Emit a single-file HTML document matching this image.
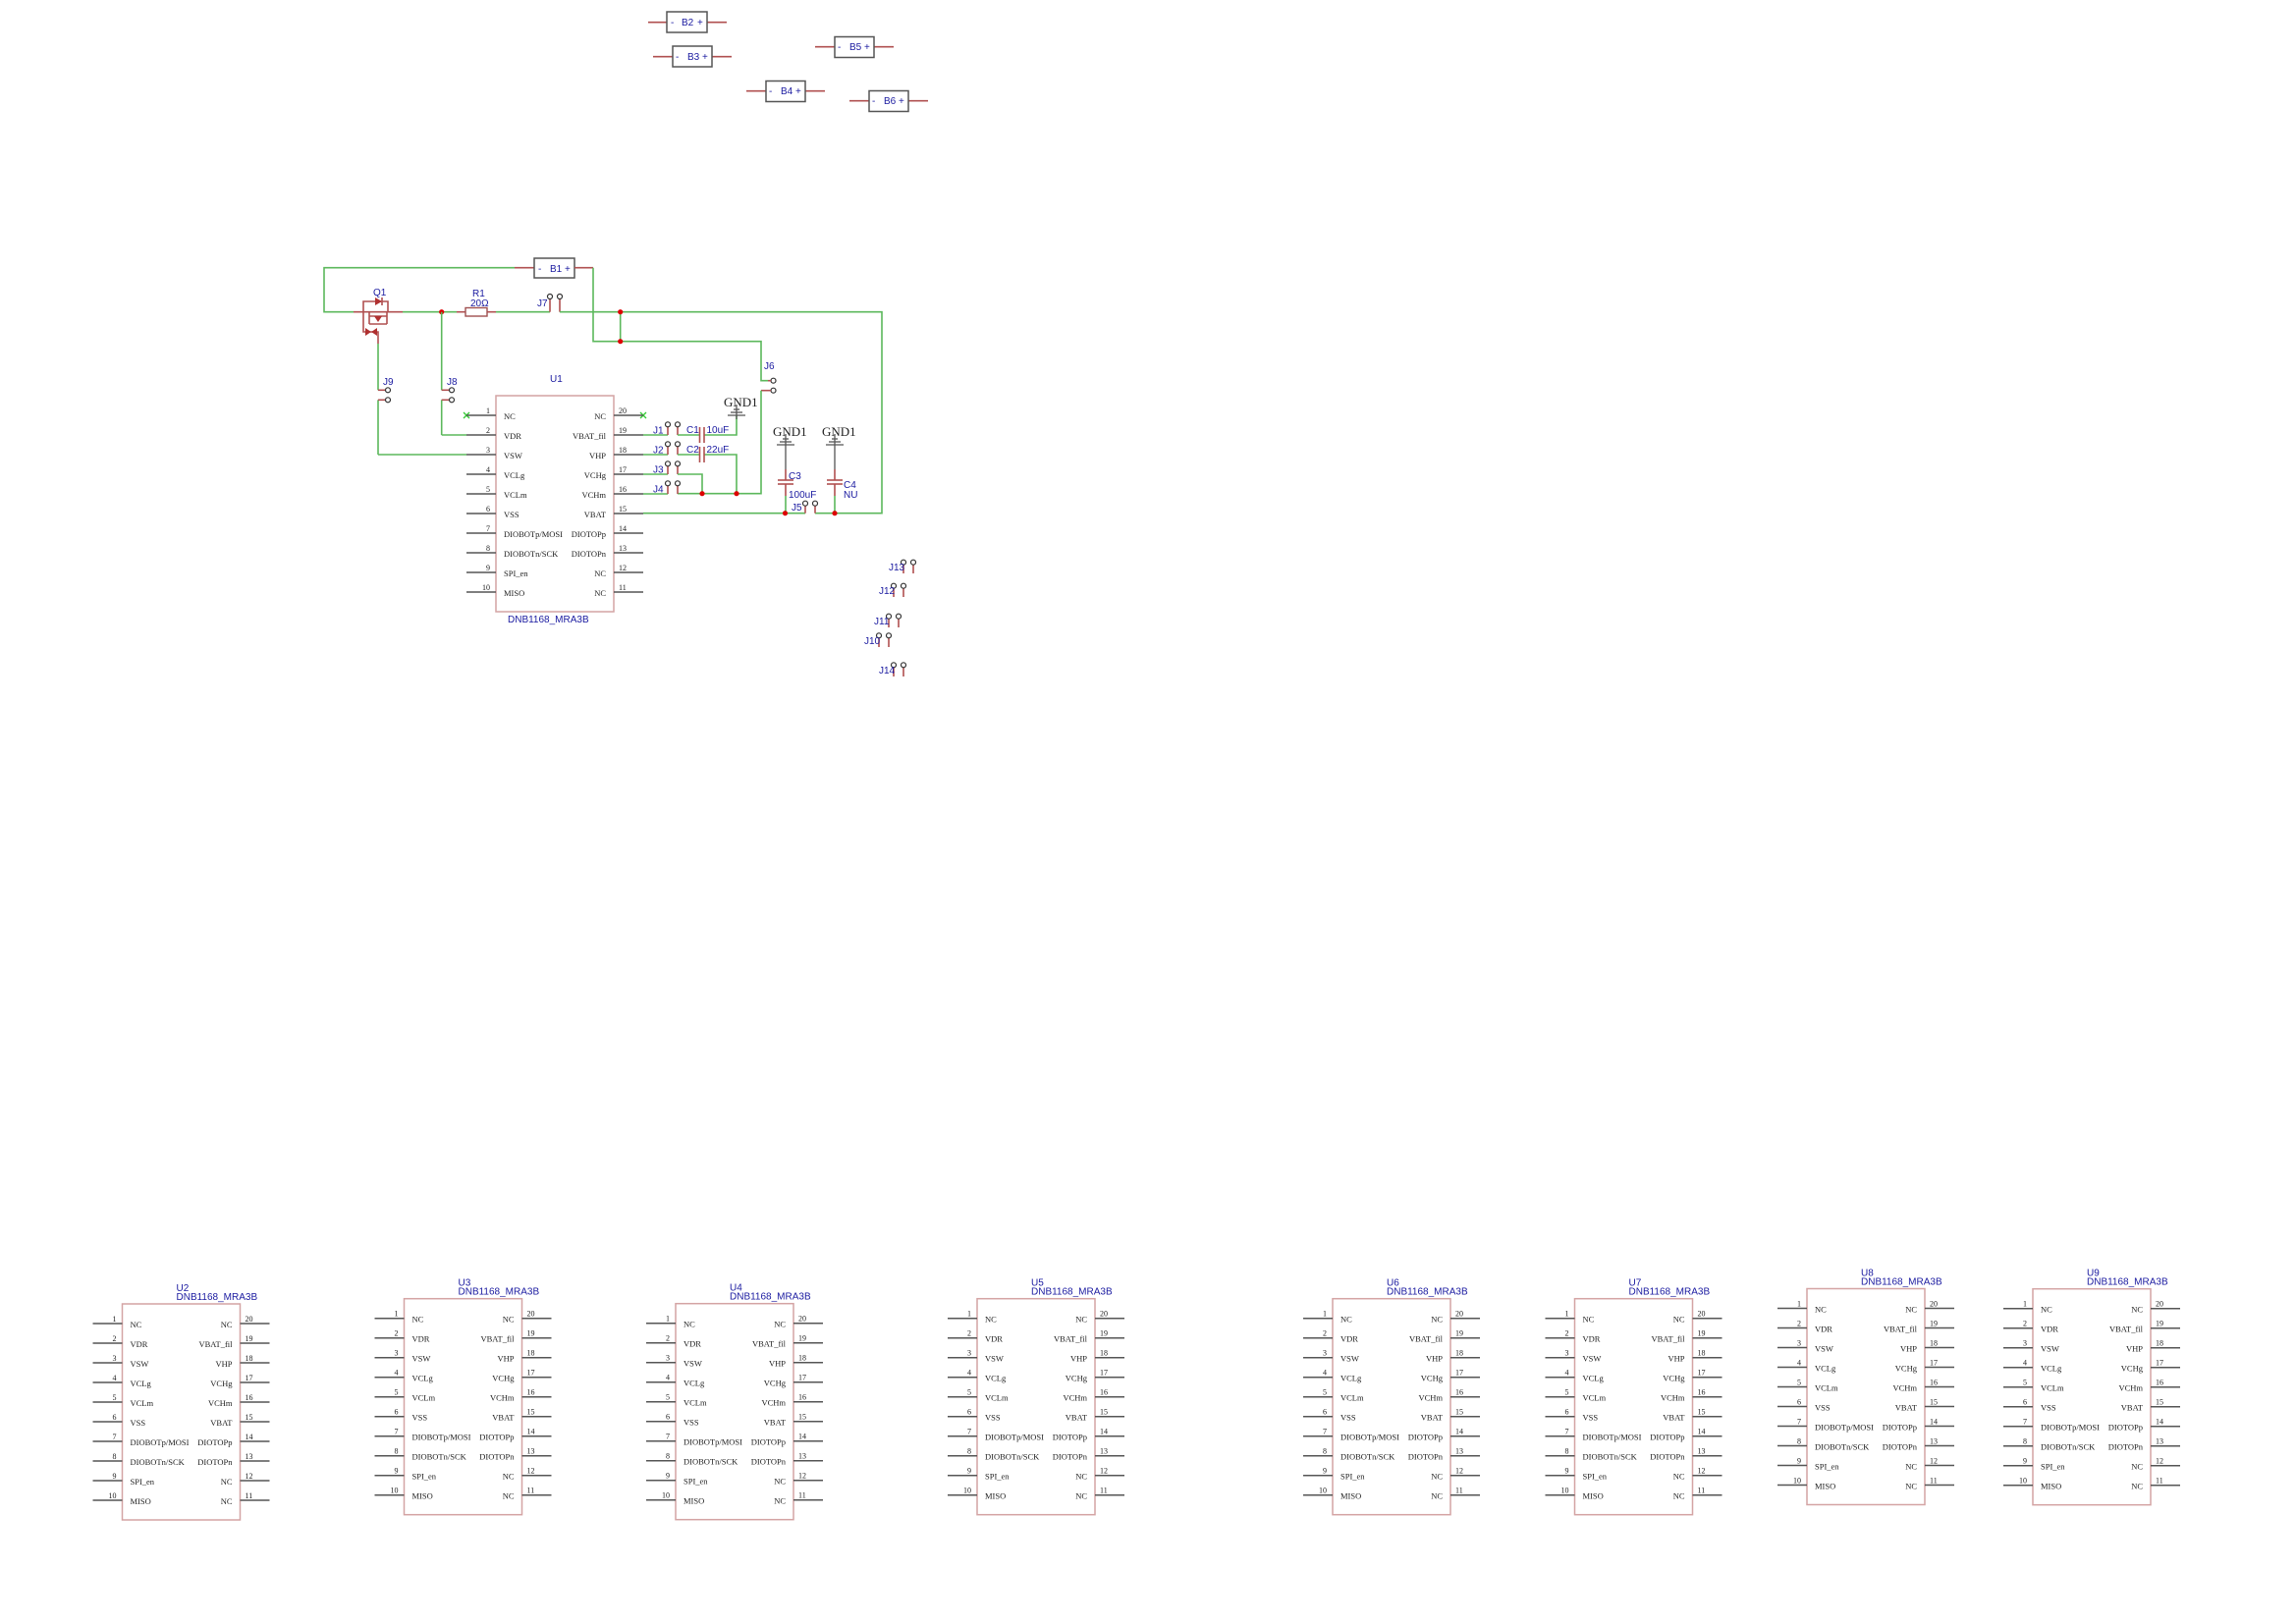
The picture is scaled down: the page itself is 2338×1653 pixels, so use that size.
<!DOCTYPE html>
<html><head><meta charset="utf-8"><style>
html,body{margin:0;padding:0;background:#fff;}
svg{display:block;}
.pn{font-family:"Liberation Serif",serif;font-size:8.5px;fill:#222;}
.nm{font-family:"Liberation Serif",serif;font-size:8px;fill:#222;}
.lb{font-family:"Liberation Sans",sans-serif;font-size:10px;fill:#1a1aa0;}
.gl{font-family:"Liberation Serif",serif;font-size:13px;fill:#222;}
.box{fill:none;stroke:#d4a4a4;stroke-width:1.5;}
.pin{stroke:#555;stroke-width:1.5;}
.w{stroke:#5cb85c;stroke-width:1.6;fill:none;}
.r{stroke:#b05050;stroke-width:1.6;fill:none;}
.bb{fill:#fff;stroke:#555;stroke-width:1.5;}
.jc{fill:#fff;stroke:#333;stroke-width:1.2;}
.d{fill:#d00;}
</style></head><body>
<svg width="2338" height="1653" viewBox="0 0 2338 1653" xmlns="http://www.w3.org/2000/svg">
<defs></defs>

<!-- Batteries B2..B6 -->
<g>
<line class="r" x1="660" y1="22.7" x2="679" y2="22.7"/><line class="r" x1="720" y1="22.7" x2="740" y2="22.7"/>
<rect class="bb" x="679" y="12" width="41" height="21"/>
<text class="lb" x="683" y="26">-</text><text class="lb" x="694" y="26">B2</text><text class="lb" x="710" y="26">+</text>

<line class="r" x1="665" y1="57.7" x2="685" y2="57.7"/><line class="r" x1="725" y1="57.7" x2="745" y2="57.7"/>
<rect class="bb" x="685" y="47" width="40" height="21"/>
<text class="lb" x="688" y="61">-</text><text class="lb" x="700" y="61">B3</text><text class="lb" x="715" y="61">+</text>

<line class="r" x1="830" y1="47.7" x2="850" y2="47.7"/><line class="r" x1="890" y1="47.7" x2="910" y2="47.7"/>
<rect class="bb" x="850" y="37.5" width="40" height="21"/>
<text class="lb" x="853" y="51">-</text><text class="lb" x="865" y="51">B5</text><text class="lb" x="880" y="51">+</text>

<line class="r" x1="760" y1="92.7" x2="780" y2="92.7"/><line class="r" x1="820" y1="92.7" x2="840" y2="92.7"/>
<rect class="bb" x="780" y="82.5" width="40" height="21"/>
<text class="lb" x="783" y="96">-</text><text class="lb" x="795" y="96">B4</text><text class="lb" x="810" y="96">+</text>

<line class="r" x1="865" y1="102.7" x2="885" y2="102.7"/><line class="r" x1="925" y1="102.7" x2="945" y2="102.7"/>
<rect class="bb" x="885" y="92.5" width="40" height="21"/>
<text class="lb" x="888" y="106">-</text><text class="lb" x="900" y="106">B6</text><text class="lb" x="915" y="106">+</text>
</g>

<!-- Top circuit wires -->
<g>
<polyline class="w" points="524,272.7 330,272.7 330,317.7 360,317.7"/>
<line class="r" x1="524" y1="272.7" x2="544" y2="272.7"/>
<rect class="bb" x="544" y="263" width="41" height="20"/>
<text class="lb" x="548" y="277">-</text><text class="lb" x="560" y="277">B1</text><text class="lb" x="575" y="277">+</text>
<line class="r" x1="585" y1="272.7" x2="604" y2="272.7"/>
<polyline class="w" points="604,272.7 604,347.7 775,347.7 775,387.7 782,387.7"/>
<line class="w" x1="631.7" y1="317.7" x2="631.7" y2="347.7"/>
<!-- Q1 -->
<line class="r" x1="360" y1="317.7" x2="410" y2="317.7"/>
<polyline class="r" points="370,317.7 370,307 395,307 395,317.7"/>
<polygon points="382,303 382,311 389,307" fill="#b03030"/><line class="r" x1="389" y1="303" x2="389" y2="311"/>
<line class="r" x1="376" y1="317.7" x2="376" y2="330"/><line class="r" x1="394" y1="317.7" x2="394" y2="330"/>
<line class="r" x1="376" y1="322" x2="394" y2="322"/><line class="r" x1="376" y1="330" x2="394" y2="330"/>
<polygon points="381,322 389,322 385,328" fill="#b03030"/>
<polyline class="r" points="370,317.7 370,338 385,338 385,350"/>
<polygon points="372,334 372,342 378,338" fill="#b03030"/><polygon points="384,334 384,342 378,338" fill="#b03030"/>
<text class="lb" x="380" y="301">Q1</text>
<line class="w" x1="410" y1="317.7" x2="465" y2="317.7"/>
<!-- R1 -->
<line class="r" x1="465" y1="317.7" x2="474" y2="317.7"/><line class="r" x1="496" y1="317.7" x2="505" y2="317.7"/>
<rect x="474" y="313.5" width="22" height="8.5" fill="#fff" stroke="#a05050" stroke-width="1.4"/>
<text class="lb" x="481" y="302">R1</text><text class="lb" x="479" y="312">20Ω</text>
<polyline class="w" points="505,317.7 560,317.7"/>
<!-- J7 -->
<line class="r" x1="560" y1="317.7" x2="560" y2="304"/><line class="r" x1="570" y1="317.7" x2="570" y2="304"/>
<circle class="jc" cx="560" cy="302" r="2.5"/><circle class="jc" cx="570" cy="302" r="2.5"/>
<text class="lb" x="547" y="312">J7</text>
<polyline class="w" points="570,317.7 898,317.7 898,522.7 830,522.7"/>
<circle class="d" cx="449.7" cy="317.7" r="2.6"/><circle class="d" cx="631.7" cy="317.7" r="2.6"/><circle class="d" cx="631.7" cy="347.7" r="2.6"/>
<!-- J9 -->
<polyline class="w" points="385,350 385,397.3"/><line class="r" x1="385" y1="397.3" x2="393" y2="397.3"/>
<polyline class="w" points="385,463 385,407.3"/><line class="r" x1="385" y1="407.3" x2="393" y2="407.3"/>
<circle class="jc" cx="395" cy="397.3" r="2.5"/><circle class="jc" cx="395" cy="407.3" r="2.5"/>
<text class="lb" x="390" y="392">J9</text>
<polyline class="w" points="385,463 475,463"/>
<!-- J8 -->
<polyline class="w" points="449.7,317.7 449.7,397.3"/><line class="r" x1="449.7" y1="397.3" x2="458" y2="397.3"/>
<polyline class="w" points="449.7,443 449.7,407.3"/><line class="r" x1="449.7" y1="407.3" x2="458" y2="407.3"/>
<circle class="jc" cx="460" cy="397.3" r="2.5"/><circle class="jc" cx="460" cy="407.3" r="2.5"/>
<text class="lb" x="455" y="392">J8</text>
<polyline class="w" points="449.7,443 475,443"/>
<!-- J6 -->
<circle class="jc" cx="787.5" cy="387.7" r="2.5"/><circle class="jc" cx="787.5" cy="397.7" r="2.5"/>
<line class="r" x1="775" y1="397.7" x2="785" y2="397.7"/><line class="r" x1="782" y1="387.7" x2="785" y2="387.7"/>
<text class="lb" x="778" y="376">J6</text>
<polyline class="w" points="775,397.7 775,502.7 690,502.7"/>
<!-- NC crosses -->
<g stroke="#3c3" stroke-width="1.3"><line x1="472" y1="420" x2="478" y2="426"/><line x1="478" y1="420" x2="472" y2="426"/>
<line x1="652" y1="420" x2="658" y2="426"/><line x1="658" y1="420" x2="652" y2="426"/></g>
<!-- pin wires right -->
<polyline class="w" points="655,443 680,443"/><polyline class="w" points="655,463 680,463"/>
<polyline class="w" points="655,483 680,483"/><polyline class="w" points="655,503 680,503"/>
<polyline class="w" points="655,522.7 820,522.7"/>
<!-- J1-J4 -->
<g>
<line class="r" x1="680" y1="443" x2="680" y2="434"/><line class="r" x1="690" y1="443" x2="690" y2="434"/>
<circle class="jc" cx="680" cy="432.3" r="2.5"/><circle class="jc" cx="690" cy="432.3" r="2.5"/>
<text class="lb" x="665" y="441.5">J1</text>
<line class="r" x1="680" y1="463" x2="680" y2="454"/><line class="r" x1="690" y1="463" x2="690" y2="454"/>
<circle class="jc" cx="680" cy="452.3" r="2.5"/><circle class="jc" cx="690" cy="452.3" r="2.5"/>
<text class="lb" x="665" y="461.5">J2</text>
<line class="r" x1="680" y1="483" x2="680" y2="474"/><line class="r" x1="690" y1="483" x2="690" y2="474"/>
<circle class="jc" cx="680" cy="472.3" r="2.5"/><circle class="jc" cx="690" cy="472.3" r="2.5"/>
<text class="lb" x="665" y="481.5">J3</text>
<line class="r" x1="680" y1="503" x2="680" y2="494"/><line class="r" x1="690" y1="503" x2="690" y2="494"/>
<circle class="jc" cx="680" cy="492.3" r="2.5"/><circle class="jc" cx="690" cy="492.3" r="2.5"/>
<text class="lb" x="665" y="501.5">J4</text>
</g>
<!-- C1/C2 -->
<polyline class="w" points="690,443 712.5,443"/><polyline class="w" points="717,443 750,443 750,423"/>
<line class="r" x1="712.5" y1="435" x2="712.5" y2="451"/><line class="r" x1="717" y1="435" x2="717" y2="451"/>
<text class="lb" x="699" y="441">C1</text><text class="lb" x="719.5" y="441">10uF</text>
<polyline class="w" points="690,463 712.5,463"/><polyline class="w" points="717,463 750,463 750,502.7"/>
<line class="r" x1="712.5" y1="455" x2="712.5" y2="471"/><line class="r" x1="717" y1="455" x2="717" y2="471"/>
<text class="lb" x="699" y="461">C2</text><text class="lb" x="719.5" y="461">22uF</text>
<polyline class="w" points="690,483 715,483 715,502.7"/>
<circle class="d" cx="715" cy="502.7" r="2.6"/><circle class="d" cx="750" cy="502.7" r="2.6"/>
<!-- GND1 symbols -->
<g stroke="#555" stroke-width="1.3">
<line x1="750" y1="412" x2="750" y2="427"/><line x1="741" y1="423" x2="759" y2="423"/><line x1="744" y1="420" x2="756" y2="420"/><line x1="747" y1="417" x2="753" y2="417"/>
<line x1="800" y1="442" x2="800" y2="478"/><line x1="791" y1="453" x2="809" y2="453"/><line x1="794" y1="450" x2="806" y2="450"/><line x1="797" y1="447" x2="803" y2="447"/>
<line x1="850" y1="442" x2="850" y2="478"/><line x1="841" y1="453" x2="859" y2="453"/><line x1="844" y1="450" x2="856" y2="450"/><line x1="847" y1="447" x2="853" y2="447"/>
</g>
<text class="gl" x="737" y="414">GND1</text><text class="gl" x="787" y="444">GND1</text><text class="gl" x="837" y="444">GND1</text>
<!-- C3 / C4 -->
<line class="r" x1="800" y1="478" x2="800" y2="489"/><line class="r" x1="792" y1="489" x2="808" y2="489"/><line class="r" x1="792" y1="493" x2="808" y2="493"/><line class="r" x1="800" y1="493" x2="800" y2="505"/>
<line class="w" x1="800" y1="505" x2="800" y2="522.7"/>
<text class="lb" x="803" y="488">C3</text><text class="lb" x="803" y="507">100uF</text>
<line class="r" x1="850" y1="478" x2="850" y2="489"/><line class="r" x1="842" y1="489" x2="858" y2="489"/><line class="r" x1="842" y1="493" x2="858" y2="493"/><line class="r" x1="850" y1="493" x2="850" y2="505"/>
<line class="w" x1="850" y1="505" x2="850" y2="522.7"/>
<text class="lb" x="859" y="497">C4</text><text class="lb" x="859" y="507">NU</text>
<!-- J5 -->
<line class="r" x1="820" y1="522.7" x2="820" y2="514.5"/><line class="r" x1="830" y1="522.7" x2="830" y2="514.5"/>
<circle class="jc" cx="820" cy="512.7" r="2.5"/><circle class="jc" cx="830" cy="512.7" r="2.5"/>
<text class="lb" x="806" y="520">J5</text>
<circle class="d" cx="799.5" cy="522.7" r="2.6"/><circle class="d" cx="850" cy="522.7" r="2.6"/>
</g>

<!-- J10-J14 -->
<g>
<line class="r" x1="920" y1="574" x2="920" y2="584"/><line class="r" x1="930" y1="574" x2="930" y2="584"/>
<circle class="jc" cx="920" cy="572.7" r="2.5"/><circle class="jc" cx="930" cy="572.7" r="2.5"/><text class="lb" x="905" y="581">J13</text>
<line class="r" x1="910" y1="598" x2="910" y2="608"/><line class="r" x1="920" y1="598" x2="920" y2="608"/>
<circle class="jc" cx="910" cy="596.7" r="2.5"/><circle class="jc" cx="920" cy="596.7" r="2.5"/><text class="lb" x="895" y="605">J12</text>
<line class="r" x1="905" y1="629" x2="905" y2="639"/><line class="r" x1="915" y1="629" x2="915" y2="639"/>
<circle class="jc" cx="905" cy="627.7" r="2.5"/><circle class="jc" cx="915" cy="627.7" r="2.5"/><text class="lb" x="890" y="636">J11</text>
<line class="r" x1="895" y1="649" x2="895" y2="659"/><line class="r" x1="905" y1="649" x2="905" y2="659"/>
<circle class="jc" cx="895" cy="647.3" r="2.5"/><circle class="jc" cx="905" cy="647.3" r="2.5"/><text class="lb" x="880" y="656">J10</text>
<line class="r" x1="910" y1="679" x2="910" y2="689"/><line class="r" x1="920" y1="679" x2="920" y2="689"/>
<circle class="jc" cx="910" cy="677.3" r="2.5"/><circle class="jc" cx="920" cy="677.3" r="2.5"/><text class="lb" x="895" y="686">J14</text>
</g>

<!-- U1 -->
<g transform="translate(505,403)">
<rect class="box" x="0" y="0" width="120" height="220"/>
<g class="pin"><line x1="-30" y1="20" x2="0" y2="20"/><line x1="-30" y1="40" x2="0" y2="40"/><line x1="-30" y1="60" x2="0" y2="60"/><line x1="-30" y1="80" x2="0" y2="80"/><line x1="-30" y1="100" x2="0" y2="100"/><line x1="-30" y1="120" x2="0" y2="120"/><line x1="-30" y1="140" x2="0" y2="140"/><line x1="-30" y1="160" x2="0" y2="160"/><line x1="-30" y1="180" x2="0" y2="180"/><line x1="-30" y1="200" x2="0" y2="200"/>
<line x1="120" y1="20" x2="150" y2="20"/><line x1="120" y1="40" x2="150" y2="40"/><line x1="120" y1="60" x2="150" y2="60"/><line x1="120" y1="80" x2="150" y2="80"/><line x1="120" y1="100" x2="150" y2="100"/><line x1="120" y1="120" x2="150" y2="120"/><line x1="120" y1="140" x2="150" y2="140"/><line x1="120" y1="160" x2="150" y2="160"/><line x1="120" y1="180" x2="150" y2="180"/><line x1="120" y1="200" x2="150" y2="200"/></g>
<g class="nm" text-anchor="end"><text x="-6" y="18">1</text><text x="-6" y="38">2</text><text x="-6" y="58">3</text><text x="-6" y="78">4</text><text x="-6" y="98">5</text><text x="-6" y="118">6</text><text x="-6" y="138">7</text><text x="-6" y="158">8</text><text x="-6" y="178">9</text><text x="-6" y="198">10</text></g>
<g class="nm"><text x="125" y="18">20</text><text x="125" y="38">19</text><text x="125" y="58">18</text><text x="125" y="78">17</text><text x="125" y="98">16</text><text x="125" y="118">15</text><text x="125" y="138">14</text><text x="125" y="158">13</text><text x="125" y="178">12</text><text x="125" y="198">11</text></g>
<g class="pn"><text x="8" y="24">NC</text><text x="8" y="44">VDR</text><text x="8" y="64">VSW</text><text x="8" y="84">VCLg</text><text x="8" y="104">VCLm</text><text x="8" y="124">VSS</text><text x="8" y="144">DIOBOTp/MOSI</text><text x="8" y="164">DIOBOTn/SCK</text><text x="8" y="184">SPI_en</text><text x="8" y="204">MISO</text></g>
<g class="pn" text-anchor="end"><text x="112" y="24">NC</text><text x="112" y="44">VBAT_fil</text><text x="112" y="64">VHP</text><text x="112" y="84">VCHg</text><text x="112" y="104">VCHm</text><text x="112" y="124">VBAT</text><text x="112" y="144">DIOTOPp</text><text x="112" y="164">DIOTOPn</text><text x="112" y="184">NC</text><text x="112" y="204">NC</text></g>
<text class="lb" x="55" y="-14">U1</text><text class="lb" x="12" y="231">DNB1168_MRA3B</text>
</g>

<!-- U2..U9 -->
<g transform="translate(124.5,1328)">
<rect class="box" x="0" y="0" width="120" height="220"/>
<g class="pin"><line x1="-30" y1="20" x2="0" y2="20"/><line x1="-30" y1="40" x2="0" y2="40"/><line x1="-30" y1="60" x2="0" y2="60"/><line x1="-30" y1="80" x2="0" y2="80"/><line x1="-30" y1="100" x2="0" y2="100"/><line x1="-30" y1="120" x2="0" y2="120"/><line x1="-30" y1="140" x2="0" y2="140"/><line x1="-30" y1="160" x2="0" y2="160"/><line x1="-30" y1="180" x2="0" y2="180"/><line x1="-30" y1="200" x2="0" y2="200"/>
<line x1="120" y1="20" x2="150" y2="20"/><line x1="120" y1="40" x2="150" y2="40"/><line x1="120" y1="60" x2="150" y2="60"/><line x1="120" y1="80" x2="150" y2="80"/><line x1="120" y1="100" x2="150" y2="100"/><line x1="120" y1="120" x2="150" y2="120"/><line x1="120" y1="140" x2="150" y2="140"/><line x1="120" y1="160" x2="150" y2="160"/><line x1="120" y1="180" x2="150" y2="180"/><line x1="120" y1="200" x2="150" y2="200"/></g>
<g class="nm" text-anchor="end"><text x="-6" y="18">1</text><text x="-6" y="38">2</text><text x="-6" y="58">3</text><text x="-6" y="78">4</text><text x="-6" y="98">5</text><text x="-6" y="118">6</text><text x="-6" y="138">7</text><text x="-6" y="158">8</text><text x="-6" y="178">9</text><text x="-6" y="198">10</text></g>
<g class="nm"><text x="125" y="18">20</text><text x="125" y="38">19</text><text x="125" y="58">18</text><text x="125" y="78">17</text><text x="125" y="98">16</text><text x="125" y="118">15</text><text x="125" y="138">14</text><text x="125" y="158">13</text><text x="125" y="178">12</text><text x="125" y="198">11</text></g>
<g class="pn"><text x="8" y="24">NC</text><text x="8" y="44">VDR</text><text x="8" y="64">VSW</text><text x="8" y="84">VCLg</text><text x="8" y="104">VCLm</text><text x="8" y="124">VSS</text><text x="8" y="144">DIOBOTp/MOSI</text><text x="8" y="164">DIOBOTn/SCK</text><text x="8" y="184">SPI_en</text><text x="8" y="204">MISO</text></g>
<g class="pn" text-anchor="end"><text x="112" y="24">NC</text><text x="112" y="44">VBAT_fil</text><text x="112" y="64">VHP</text><text x="112" y="84">VCHg</text><text x="112" y="104">VCHm</text><text x="112" y="124">VBAT</text><text x="112" y="144">DIOTOPp</text><text x="112" y="164">DIOTOPn</text><text x="112" y="184">NC</text><text x="112" y="204">NC</text></g>
<text class="lb" x="55" y="-13">U2</text><text class="lb" x="55" y="-4">DNB1168_MRA3B</text>
</g>

<g transform="translate(411.5,1322.7)">
<rect class="box" x="0" y="0" width="120" height="220"/>
<g class="pin"><line x1="-30" y1="20" x2="0" y2="20"/><line x1="-30" y1="40" x2="0" y2="40"/><line x1="-30" y1="60" x2="0" y2="60"/><line x1="-30" y1="80" x2="0" y2="80"/><line x1="-30" y1="100" x2="0" y2="100"/><line x1="-30" y1="120" x2="0" y2="120"/><line x1="-30" y1="140" x2="0" y2="140"/><line x1="-30" y1="160" x2="0" y2="160"/><line x1="-30" y1="180" x2="0" y2="180"/><line x1="-30" y1="200" x2="0" y2="200"/>
<line x1="120" y1="20" x2="150" y2="20"/><line x1="120" y1="40" x2="150" y2="40"/><line x1="120" y1="60" x2="150" y2="60"/><line x1="120" y1="80" x2="150" y2="80"/><line x1="120" y1="100" x2="150" y2="100"/><line x1="120" y1="120" x2="150" y2="120"/><line x1="120" y1="140" x2="150" y2="140"/><line x1="120" y1="160" x2="150" y2="160"/><line x1="120" y1="180" x2="150" y2="180"/><line x1="120" y1="200" x2="150" y2="200"/></g>
<g class="nm" text-anchor="end"><text x="-6" y="18">1</text><text x="-6" y="38">2</text><text x="-6" y="58">3</text><text x="-6" y="78">4</text><text x="-6" y="98">5</text><text x="-6" y="118">6</text><text x="-6" y="138">7</text><text x="-6" y="158">8</text><text x="-6" y="178">9</text><text x="-6" y="198">10</text></g>
<g class="nm"><text x="125" y="18">20</text><text x="125" y="38">19</text><text x="125" y="58">18</text><text x="125" y="78">17</text><text x="125" y="98">16</text><text x="125" y="118">15</text><text x="125" y="138">14</text><text x="125" y="158">13</text><text x="125" y="178">12</text><text x="125" y="198">11</text></g>
<g class="pn"><text x="8" y="24">NC</text><text x="8" y="44">VDR</text><text x="8" y="64">VSW</text><text x="8" y="84">VCLg</text><text x="8" y="104">VCLm</text><text x="8" y="124">VSS</text><text x="8" y="144">DIOBOTp/MOSI</text><text x="8" y="164">DIOBOTn/SCK</text><text x="8" y="184">SPI_en</text><text x="8" y="204">MISO</text></g>
<g class="pn" text-anchor="end"><text x="112" y="24">NC</text><text x="112" y="44">VBAT_fil</text><text x="112" y="64">VHP</text><text x="112" y="84">VCHg</text><text x="112" y="104">VCHm</text><text x="112" y="124">VBAT</text><text x="112" y="144">DIOTOPp</text><text x="112" y="164">DIOTOPn</text><text x="112" y="184">NC</text><text x="112" y="204">NC</text></g>
<text class="lb" x="55" y="-13">U3</text><text class="lb" x="55" y="-4">DNB1168_MRA3B</text>
</g>

<g transform="translate(688,1327.7)">
<rect class="box" x="0" y="0" width="120" height="220"/>
<g class="pin"><line x1="-30" y1="20" x2="0" y2="20"/><line x1="-30" y1="40" x2="0" y2="40"/><line x1="-30" y1="60" x2="0" y2="60"/><line x1="-30" y1="80" x2="0" y2="80"/><line x1="-30" y1="100" x2="0" y2="100"/><line x1="-30" y1="120" x2="0" y2="120"/><line x1="-30" y1="140" x2="0" y2="140"/><line x1="-30" y1="160" x2="0" y2="160"/><line x1="-30" y1="180" x2="0" y2="180"/><line x1="-30" y1="200" x2="0" y2="200"/>
<line x1="120" y1="20" x2="150" y2="20"/><line x1="120" y1="40" x2="150" y2="40"/><line x1="120" y1="60" x2="150" y2="60"/><line x1="120" y1="80" x2="150" y2="80"/><line x1="120" y1="100" x2="150" y2="100"/><line x1="120" y1="120" x2="150" y2="120"/><line x1="120" y1="140" x2="150" y2="140"/><line x1="120" y1="160" x2="150" y2="160"/><line x1="120" y1="180" x2="150" y2="180"/><line x1="120" y1="200" x2="150" y2="200"/></g>
<g class="nm" text-anchor="end"><text x="-6" y="18">1</text><text x="-6" y="38">2</text><text x="-6" y="58">3</text><text x="-6" y="78">4</text><text x="-6" y="98">5</text><text x="-6" y="118">6</text><text x="-6" y="138">7</text><text x="-6" y="158">8</text><text x="-6" y="178">9</text><text x="-6" y="198">10</text></g>
<g class="nm"><text x="125" y="18">20</text><text x="125" y="38">19</text><text x="125" y="58">18</text><text x="125" y="78">17</text><text x="125" y="98">16</text><text x="125" y="118">15</text><text x="125" y="138">14</text><text x="125" y="158">13</text><text x="125" y="178">12</text><text x="125" y="198">11</text></g>
<g class="pn"><text x="8" y="24">NC</text><text x="8" y="44">VDR</text><text x="8" y="64">VSW</text><text x="8" y="84">VCLg</text><text x="8" y="104">VCLm</text><text x="8" y="124">VSS</text><text x="8" y="144">DIOBOTp/MOSI</text><text x="8" y="164">DIOBOTn/SCK</text><text x="8" y="184">SPI_en</text><text x="8" y="204">MISO</text></g>
<g class="pn" text-anchor="end"><text x="112" y="24">NC</text><text x="112" y="44">VBAT_fil</text><text x="112" y="64">VHP</text><text x="112" y="84">VCHg</text><text x="112" y="104">VCHm</text><text x="112" y="124">VBAT</text><text x="112" y="144">DIOTOPp</text><text x="112" y="164">DIOTOPn</text><text x="112" y="184">NC</text><text x="112" y="204">NC</text></g>
<text class="lb" x="55" y="-13">U4</text><text class="lb" x="55" y="-4">DNB1168_MRA3B</text>
</g>

<g transform="translate(995,1322.7)">
<rect class="box" x="0" y="0" width="120" height="220"/>
<g class="pin"><line x1="-30" y1="20" x2="0" y2="20"/><line x1="-30" y1="40" x2="0" y2="40"/><line x1="-30" y1="60" x2="0" y2="60"/><line x1="-30" y1="80" x2="0" y2="80"/><line x1="-30" y1="100" x2="0" y2="100"/><line x1="-30" y1="120" x2="0" y2="120"/><line x1="-30" y1="140" x2="0" y2="140"/><line x1="-30" y1="160" x2="0" y2="160"/><line x1="-30" y1="180" x2="0" y2="180"/><line x1="-30" y1="200" x2="0" y2="200"/>
<line x1="120" y1="20" x2="150" y2="20"/><line x1="120" y1="40" x2="150" y2="40"/><line x1="120" y1="60" x2="150" y2="60"/><line x1="120" y1="80" x2="150" y2="80"/><line x1="120" y1="100" x2="150" y2="100"/><line x1="120" y1="120" x2="150" y2="120"/><line x1="120" y1="140" x2="150" y2="140"/><line x1="120" y1="160" x2="150" y2="160"/><line x1="120" y1="180" x2="150" y2="180"/><line x1="120" y1="200" x2="150" y2="200"/></g>
<g class="nm" text-anchor="end"><text x="-6" y="18">1</text><text x="-6" y="38">2</text><text x="-6" y="58">3</text><text x="-6" y="78">4</text><text x="-6" y="98">5</text><text x="-6" y="118">6</text><text x="-6" y="138">7</text><text x="-6" y="158">8</text><text x="-6" y="178">9</text><text x="-6" y="198">10</text></g>
<g class="nm"><text x="125" y="18">20</text><text x="125" y="38">19</text><text x="125" y="58">18</text><text x="125" y="78">17</text><text x="125" y="98">16</text><text x="125" y="118">15</text><text x="125" y="138">14</text><text x="125" y="158">13</text><text x="125" y="178">12</text><text x="125" y="198">11</text></g>
<g class="pn"><text x="8" y="24">NC</text><text x="8" y="44">VDR</text><text x="8" y="64">VSW</text><text x="8" y="84">VCLg</text><text x="8" y="104">VCLm</text><text x="8" y="124">VSS</text><text x="8" y="144">DIOBOTp/MOSI</text><text x="8" y="164">DIOBOTn/SCK</text><text x="8" y="184">SPI_en</text><text x="8" y="204">MISO</text></g>
<g class="pn" text-anchor="end"><text x="112" y="24">NC</text><text x="112" y="44">VBAT_fil</text><text x="112" y="64">VHP</text><text x="112" y="84">VCHg</text><text x="112" y="104">VCHm</text><text x="112" y="124">VBAT</text><text x="112" y="144">DIOTOPp</text><text x="112" y="164">DIOTOPn</text><text x="112" y="184">NC</text><text x="112" y="204">NC</text></g>
<text class="lb" x="55" y="-13">U5</text><text class="lb" x="55" y="-4">DNB1168_MRA3B</text>
</g>

<g transform="translate(1357,1322.7)">
<rect class="box" x="0" y="0" width="120" height="220"/>
<g class="pin"><line x1="-30" y1="20" x2="0" y2="20"/><line x1="-30" y1="40" x2="0" y2="40"/><line x1="-30" y1="60" x2="0" y2="60"/><line x1="-30" y1="80" x2="0" y2="80"/><line x1="-30" y1="100" x2="0" y2="100"/><line x1="-30" y1="120" x2="0" y2="120"/><line x1="-30" y1="140" x2="0" y2="140"/><line x1="-30" y1="160" x2="0" y2="160"/><line x1="-30" y1="180" x2="0" y2="180"/><line x1="-30" y1="200" x2="0" y2="200"/>
<line x1="120" y1="20" x2="150" y2="20"/><line x1="120" y1="40" x2="150" y2="40"/><line x1="120" y1="60" x2="150" y2="60"/><line x1="120" y1="80" x2="150" y2="80"/><line x1="120" y1="100" x2="150" y2="100"/><line x1="120" y1="120" x2="150" y2="120"/><line x1="120" y1="140" x2="150" y2="140"/><line x1="120" y1="160" x2="150" y2="160"/><line x1="120" y1="180" x2="150" y2="180"/><line x1="120" y1="200" x2="150" y2="200"/></g>
<g class="nm" text-anchor="end"><text x="-6" y="18">1</text><text x="-6" y="38">2</text><text x="-6" y="58">3</text><text x="-6" y="78">4</text><text x="-6" y="98">5</text><text x="-6" y="118">6</text><text x="-6" y="138">7</text><text x="-6" y="158">8</text><text x="-6" y="178">9</text><text x="-6" y="198">10</text></g>
<g class="nm"><text x="125" y="18">20</text><text x="125" y="38">19</text><text x="125" y="58">18</text><text x="125" y="78">17</text><text x="125" y="98">16</text><text x="125" y="118">15</text><text x="125" y="138">14</text><text x="125" y="158">13</text><text x="125" y="178">12</text><text x="125" y="198">11</text></g>
<g class="pn"><text x="8" y="24">NC</text><text x="8" y="44">VDR</text><text x="8" y="64">VSW</text><text x="8" y="84">VCLg</text><text x="8" y="104">VCLm</text><text x="8" y="124">VSS</text><text x="8" y="144">DIOBOTp/MOSI</text><text x="8" y="164">DIOBOTn/SCK</text><text x="8" y="184">SPI_en</text><text x="8" y="204">MISO</text></g>
<g class="pn" text-anchor="end"><text x="112" y="24">NC</text><text x="112" y="44">VBAT_fil</text><text x="112" y="64">VHP</text><text x="112" y="84">VCHg</text><text x="112" y="104">VCHm</text><text x="112" y="124">VBAT</text><text x="112" y="144">DIOTOPp</text><text x="112" y="164">DIOTOPn</text><text x="112" y="184">NC</text><text x="112" y="204">NC</text></g>
<text class="lb" x="55" y="-13">U6</text><text class="lb" x="55" y="-4">DNB1168_MRA3B</text>
</g>

<g transform="translate(1603.5,1322.7)">
<rect class="box" x="0" y="0" width="120" height="220"/>
<g class="pin"><line x1="-30" y1="20" x2="0" y2="20"/><line x1="-30" y1="40" x2="0" y2="40"/><line x1="-30" y1="60" x2="0" y2="60"/><line x1="-30" y1="80" x2="0" y2="80"/><line x1="-30" y1="100" x2="0" y2="100"/><line x1="-30" y1="120" x2="0" y2="120"/><line x1="-30" y1="140" x2="0" y2="140"/><line x1="-30" y1="160" x2="0" y2="160"/><line x1="-30" y1="180" x2="0" y2="180"/><line x1="-30" y1="200" x2="0" y2="200"/>
<line x1="120" y1="20" x2="150" y2="20"/><line x1="120" y1="40" x2="150" y2="40"/><line x1="120" y1="60" x2="150" y2="60"/><line x1="120" y1="80" x2="150" y2="80"/><line x1="120" y1="100" x2="150" y2="100"/><line x1="120" y1="120" x2="150" y2="120"/><line x1="120" y1="140" x2="150" y2="140"/><line x1="120" y1="160" x2="150" y2="160"/><line x1="120" y1="180" x2="150" y2="180"/><line x1="120" y1="200" x2="150" y2="200"/></g>
<g class="nm" text-anchor="end"><text x="-6" y="18">1</text><text x="-6" y="38">2</text><text x="-6" y="58">3</text><text x="-6" y="78">4</text><text x="-6" y="98">5</text><text x="-6" y="118">6</text><text x="-6" y="138">7</text><text x="-6" y="158">8</text><text x="-6" y="178">9</text><text x="-6" y="198">10</text></g>
<g class="nm"><text x="125" y="18">20</text><text x="125" y="38">19</text><text x="125" y="58">18</text><text x="125" y="78">17</text><text x="125" y="98">16</text><text x="125" y="118">15</text><text x="125" y="138">14</text><text x="125" y="158">13</text><text x="125" y="178">12</text><text x="125" y="198">11</text></g>
<g class="pn"><text x="8" y="24">NC</text><text x="8" y="44">VDR</text><text x="8" y="64">VSW</text><text x="8" y="84">VCLg</text><text x="8" y="104">VCLm</text><text x="8" y="124">VSS</text><text x="8" y="144">DIOBOTp/MOSI</text><text x="8" y="164">DIOBOTn/SCK</text><text x="8" y="184">SPI_en</text><text x="8" y="204">MISO</text></g>
<g class="pn" text-anchor="end"><text x="112" y="24">NC</text><text x="112" y="44">VBAT_fil</text><text x="112" y="64">VHP</text><text x="112" y="84">VCHg</text><text x="112" y="104">VCHm</text><text x="112" y="124">VBAT</text><text x="112" y="144">DIOTOPp</text><text x="112" y="164">DIOTOPn</text><text x="112" y="184">NC</text><text x="112" y="204">NC</text></g>
<text class="lb" x="55" y="-13">U7</text><text class="lb" x="55" y="-4">DNB1168_MRA3B</text>
</g>

<g transform="translate(1840,1312.5)">
<rect class="box" x="0" y="0" width="120" height="220"/>
<g class="pin"><line x1="-30" y1="20" x2="0" y2="20"/><line x1="-30" y1="40" x2="0" y2="40"/><line x1="-30" y1="60" x2="0" y2="60"/><line x1="-30" y1="80" x2="0" y2="80"/><line x1="-30" y1="100" x2="0" y2="100"/><line x1="-30" y1="120" x2="0" y2="120"/><line x1="-30" y1="140" x2="0" y2="140"/><line x1="-30" y1="160" x2="0" y2="160"/><line x1="-30" y1="180" x2="0" y2="180"/><line x1="-30" y1="200" x2="0" y2="200"/>
<line x1="120" y1="20" x2="150" y2="20"/><line x1="120" y1="40" x2="150" y2="40"/><line x1="120" y1="60" x2="150" y2="60"/><line x1="120" y1="80" x2="150" y2="80"/><line x1="120" y1="100" x2="150" y2="100"/><line x1="120" y1="120" x2="150" y2="120"/><line x1="120" y1="140" x2="150" y2="140"/><line x1="120" y1="160" x2="150" y2="160"/><line x1="120" y1="180" x2="150" y2="180"/><line x1="120" y1="200" x2="150" y2="200"/></g>
<g class="nm" text-anchor="end"><text x="-6" y="18">1</text><text x="-6" y="38">2</text><text x="-6" y="58">3</text><text x="-6" y="78">4</text><text x="-6" y="98">5</text><text x="-6" y="118">6</text><text x="-6" y="138">7</text><text x="-6" y="158">8</text><text x="-6" y="178">9</text><text x="-6" y="198">10</text></g>
<g class="nm"><text x="125" y="18">20</text><text x="125" y="38">19</text><text x="125" y="58">18</text><text x="125" y="78">17</text><text x="125" y="98">16</text><text x="125" y="118">15</text><text x="125" y="138">14</text><text x="125" y="158">13</text><text x="125" y="178">12</text><text x="125" y="198">11</text></g>
<g class="pn"><text x="8" y="24">NC</text><text x="8" y="44">VDR</text><text x="8" y="64">VSW</text><text x="8" y="84">VCLg</text><text x="8" y="104">VCLm</text><text x="8" y="124">VSS</text><text x="8" y="144">DIOBOTp/MOSI</text><text x="8" y="164">DIOBOTn/SCK</text><text x="8" y="184">SPI_en</text><text x="8" y="204">MISO</text></g>
<g class="pn" text-anchor="end"><text x="112" y="24">NC</text><text x="112" y="44">VBAT_fil</text><text x="112" y="64">VHP</text><text x="112" y="84">VCHg</text><text x="112" y="104">VCHm</text><text x="112" y="124">VBAT</text><text x="112" y="144">DIOTOPp</text><text x="112" y="164">DIOTOPn</text><text x="112" y="184">NC</text><text x="112" y="204">NC</text></g>
<text class="lb" x="55" y="-13">U8</text><text class="lb" x="55" y="-4">DNB1168_MRA3B</text>
</g>

<g transform="translate(2070,1312.7)">
<rect class="box" x="0" y="0" width="120" height="220"/>
<g class="pin"><line x1="-30" y1="20" x2="0" y2="20"/><line x1="-30" y1="40" x2="0" y2="40"/><line x1="-30" y1="60" x2="0" y2="60"/><line x1="-30" y1="80" x2="0" y2="80"/><line x1="-30" y1="100" x2="0" y2="100"/><line x1="-30" y1="120" x2="0" y2="120"/><line x1="-30" y1="140" x2="0" y2="140"/><line x1="-30" y1="160" x2="0" y2="160"/><line x1="-30" y1="180" x2="0" y2="180"/><line x1="-30" y1="200" x2="0" y2="200"/>
<line x1="120" y1="20" x2="150" y2="20"/><line x1="120" y1="40" x2="150" y2="40"/><line x1="120" y1="60" x2="150" y2="60"/><line x1="120" y1="80" x2="150" y2="80"/><line x1="120" y1="100" x2="150" y2="100"/><line x1="120" y1="120" x2="150" y2="120"/><line x1="120" y1="140" x2="150" y2="140"/><line x1="120" y1="160" x2="150" y2="160"/><line x1="120" y1="180" x2="150" y2="180"/><line x1="120" y1="200" x2="150" y2="200"/></g>
<g class="nm" text-anchor="end"><text x="-6" y="18">1</text><text x="-6" y="38">2</text><text x="-6" y="58">3</text><text x="-6" y="78">4</text><text x="-6" y="98">5</text><text x="-6" y="118">6</text><text x="-6" y="138">7</text><text x="-6" y="158">8</text><text x="-6" y="178">9</text><text x="-6" y="198">10</text></g>
<g class="nm"><text x="125" y="18">20</text><text x="125" y="38">19</text><text x="125" y="58">18</text><text x="125" y="78">17</text><text x="125" y="98">16</text><text x="125" y="118">15</text><text x="125" y="138">14</text><text x="125" y="158">13</text><text x="125" y="178">12</text><text x="125" y="198">11</text></g>
<g class="pn"><text x="8" y="24">NC</text><text x="8" y="44">VDR</text><text x="8" y="64">VSW</text><text x="8" y="84">VCLg</text><text x="8" y="104">VCLm</text><text x="8" y="124">VSS</text><text x="8" y="144">DIOBOTp/MOSI</text><text x="8" y="164">DIOBOTn/SCK</text><text x="8" y="184">SPI_en</text><text x="8" y="204">MISO</text></g>
<g class="pn" text-anchor="end"><text x="112" y="24">NC</text><text x="112" y="44">VBAT_fil</text><text x="112" y="64">VHP</text><text x="112" y="84">VCHg</text><text x="112" y="104">VCHm</text><text x="112" y="124">VBAT</text><text x="112" y="144">DIOTOPp</text><text x="112" y="164">DIOTOPn</text><text x="112" y="184">NC</text><text x="112" y="204">NC</text></g>
<text class="lb" x="55" y="-13">U9</text><text class="lb" x="55" y="-4">DNB1168_MRA3B</text>
</g>
</svg>
</body></html>
